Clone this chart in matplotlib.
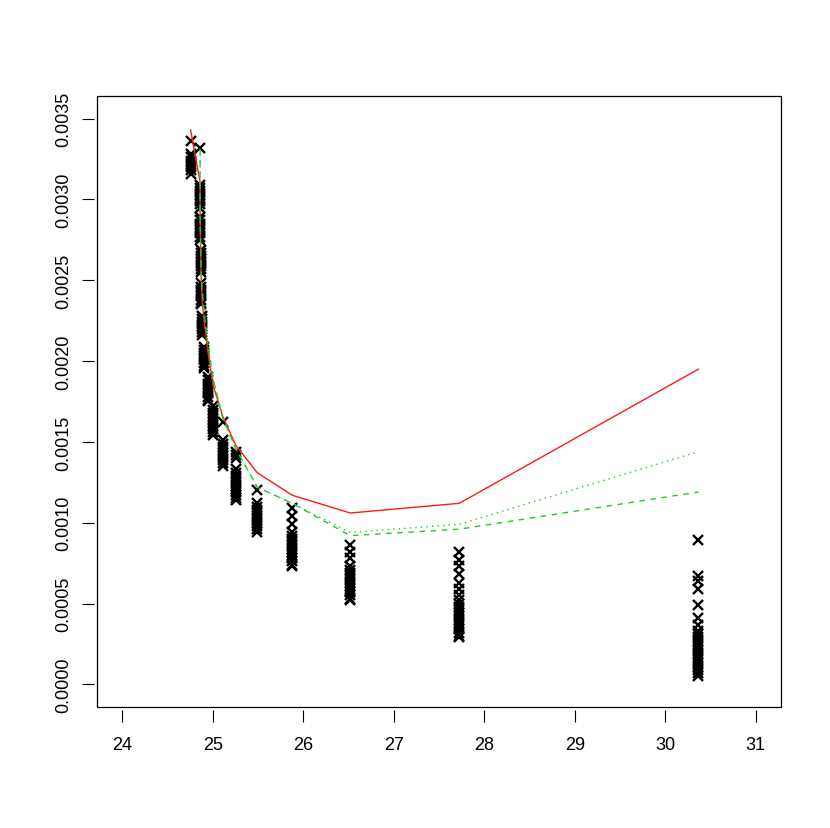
import numpy as np
import matplotlib
matplotlib.use('Agg')
import matplotlib.pyplot as plt
from matplotlib.patches import Rectangle

plt.rcParams['font.family'] = ['Liberation Sans', 'DejaVu Sans']

# x position of each stack of points
cluster_x = [24.754, 24.859, 24.859, 24.865, 24.870, 24.881, 24.904, 24.942,
             25.003, 25.108, 25.252, 25.490, 25.877, 26.519, 27.724, 30.367]

# y values of the points in each stack
cluster_y = [
    [0.00336, 0.00328, 0.00326, 0.00324, 0.00322, 0.00320, 0.00318, 0.00316],
    [0.00332, 0.00309, 0.00307, 0.00305, 0.00303, 0.00301, 0.00299, 0.00297, 0.00295],
    [0.00289, 0.00287, 0.00285, 0.00283, 0.00281, 0.00279, 0.00277, 0.00275],
    [0.00269, 0.00267, 0.00265, 0.00263, 0.00261, 0.00259, 0.00257, 0.00255],
    [0.00248, 0.00246, 0.00244, 0.00242, 0.00240, 0.00238, 0.00236, 0.00235],
    [0.00228, 0.00226, 0.00224, 0.00222, 0.00220, 0.00218, 0.00216],
    [0.00209, 0.00207, 0.00205, 0.00203, 0.00201, 0.00199, 0.00197, 0.00196],
    [0.00190, 0.00188, 0.00186, 0.00184, 0.00182, 0.00180, 0.00178, 0.00176, 0.00175],
    [0.00172, 0.00170, 0.00168, 0.00166, 0.00164, 0.00162, 0.00160, 0.00158, 0.00156, 0.00154],
    [0.00162, 0.00151, 0.00149, 0.00147, 0.00145, 0.00143, 0.00141, 0.00139, 0.00137, 0.00135],
    [0.00144, 0.00142, 0.00140, 0.00133, 0.00131, 0.00129, 0.00127, 0.00125, 0.00123,
     0.00121, 0.00119, 0.00117, 0.00115, 0.00114],
    [0.00120, 0.00112, 0.00110, 0.00108, 0.00106, 0.00104, 0.00102, 0.00100, 0.00098,
     0.00096, 0.00094],
    [0.00109, 0.00104, 0.00099, 0.00094, 0.00092, 0.00090, 0.00088, 0.00086, 0.00084,
     0.00082, 0.00080, 0.00078, 0.00076, 0.00074, 0.00073],
    [0.00086, 0.00082, 0.00078, 0.00073, 0.00071, 0.00069, 0.00067, 0.00065, 0.00063,
     0.00061, 0.00059, 0.00057, 0.00055, 0.00053, 0.00052],
    [0.00082, 0.00077, 0.00073, 0.00068, 0.00063, 0.00059, 0.00055, 0.00052, 0.00050,
     0.00048, 0.00046, 0.00044, 0.00042, 0.00040, 0.00038, 0.00036, 0.00034, 0.00032,
     0.00030, 0.00029],
    [0.00089, 0.00067, 0.00064, 0.00059, 0.00049, 0.00041, 0.00037, 0.00033, 0.00031,
     0.00029, 0.00027, 0.00025, 0.00023, 0.00021, 0.00019, 0.00017, 0.00015, 0.00013,
     0.00011, 0.00009, 0.00007, 0.00005],
]

red_x = cluster_x
red_y = [0.00343, 0.00311, 0.00291, 0.00272, 0.00254, 0.00238, 0.00225, 0.00207,
         0.00185, 0.00166, 0.00148, 0.00131, 0.00117, 0.00106, 0.00112, 0.00195]

green_x = cluster_x[1:]
green_dash_y = [0.00331, 0.00291, 0.00272, 0.00257, 0.00245, 0.00230, 0.00212, 0.00189,
                0.00165, 0.00146, 0.00122, 0.00112, 0.00092, 0.00096, 0.00119]
green_dot_y = [0.00331, 0.00291, 0.00272, 0.00257, 0.00245, 0.00230, 0.00212, 0.00189,
               0.00165, 0.00146, 0.00122, 0.00112, 0.00094, 0.00099, 0.00144]

x_ticks = [24, 25, 26, 27, 28, 29, 30, 31]
y_ticks = [0.0000, 0.0005, 0.0010, 0.0015, 0.0020, 0.0025, 0.0030, 0.0035]

fig = plt.figure(figsize=(8.3, 8.29), dpi=100)
ax = fig.add_axes([0.1169, 0.146, 0.8241, 0.737])

for xv, ys in zip(cluster_x, cluster_y):
    ax.plot([xv] * len(ys), ys, linestyle='none', marker='x', color='black',
            markersize=7, markeredgewidth=1.7)

ax.plot(red_x, red_y, color='#ff1a1a', lw=1.0)
ax.plot(green_x, green_dot_y, color='#22cc22', lw=1.0, linestyle=(0, (1, 3)))
ax.plot(green_x, green_dash_y, color='#22cc22', lw=1.0, linestyle=(0, (4, 4)))

ax.set_xlim(23.72, 31.28)
ax.set_ylim(-0.00014, 0.00364)

ax.set_xticks(x_ticks)
ax.set_xticklabels([str(t) for t in x_ticks])
ax.set_yticks(y_ticks)
ax.set_yticklabels(['%.4f' % t for t in y_ticks])

for s in ax.spines.values():
    s.set_visible(False)
ax.spines['bottom'].set_position(('outward', 2.5))
ax.spines['left'].set_position(('outward', 2.5))
ax.add_patch(Rectangle((0, 0), 1, 1, transform=ax.transAxes, fill=False,
                       lw=0.9, edgecolor='black', clip_on=False))

ax.tick_params(direction='out', length=8.5, width=0.8, labelsize=13)
ax.tick_params(axis='x', pad=10)
ax.tick_params(axis='y', pad=7, labelrotation=90)
for lab in ax.get_yticklabels():
    lab.set_verticalalignment('center')

fig.savefig('out.png', dpi=100)
